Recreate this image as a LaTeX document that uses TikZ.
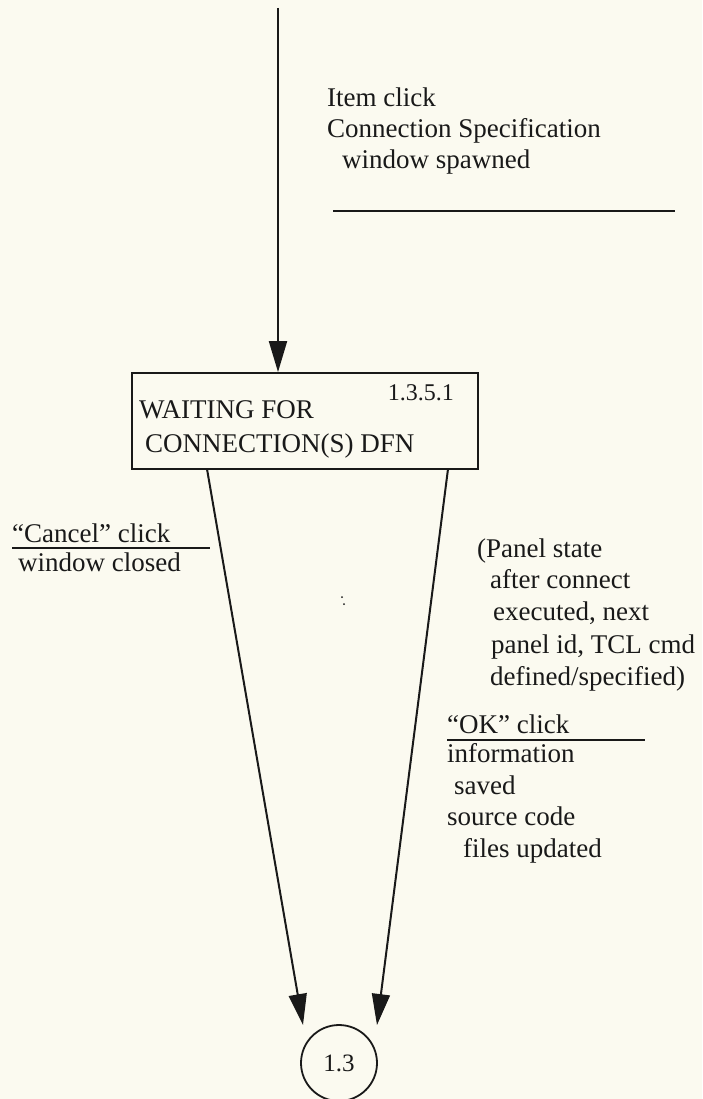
\documentclass[tikz,border=0pt]{standalone}
\usepackage{fontspec}
\setmainfont{Liberation Serif}
\usetikzlibrary{arrows.meta}
\definecolor{paper}{RGB}{251,250,240}
\definecolor{ink}{RGB}{25,25,25}
\begin{document}
\begin{tikzpicture}[x=1pt,y=-1pt,
  lbl/.style={anchor=base west,inner sep=0pt,text=ink,font=\fontsize{27}{31}\selectfont},
  flow/.style={draw=ink,line width=2pt,-{Triangle[length=31pt,width=18pt]}},
  rule/.style={draw=ink,line width=2pt},
  statebox/.style={draw=ink,line width=1.8pt,rectangle,minimum width=346pt,minimum height=96pt,inner sep=0pt},
  term/.style={draw=ink,line width=1.8pt,circle,minimum size=76pt,inner sep=0pt,text=ink,font=\fontsize{25}{28}\selectfont}]
\fill[paper] (0,0) rectangle (702,1099);
\useasboundingbox (0,0) rectangle (702,1099);

% state box
\node[statebox] (box) at (305,421) {};
\node[lbl] (w1) at (139,418) {WAITING FOR};
\node[lbl] (w2) at (145,452) {CONNECTION(S) DFN};
\node[lbl,anchor=base east,font=\fontsize{24}{26}\selectfont] (num) at (454,400) {1.3.5.1};

% terminal circle
\node[term] (c13) at (339,1063) {1.3};

% top incoming flow
\coordinate (top) at (278,8);
\draw[flow] (top) -- (top |- box.north);

% labels for incoming flow
\node[lbl] (t1) at (327,107) {Item click};
\node[lbl] (t2) at (327,138) {Connection Specification};
\node[lbl] (t3) at (342,169) {window spawned};
\coordinate (r1a) at (333,211);
\coordinate (r1b) at (675,211);
\draw[rule] (r1a) -- (r1b);

% left outgoing flow
\coordinate (ls) at (207,469);
\coordinate (le) at (303,1025);
\draw[flow] (ls) -- (le);
\node[lbl] (k1) at (12,542) {“Cancel” click};
\node[lbl] (k2) at (18,571) {window closed};
\coordinate (r2a) at (12,548);
\coordinate (r2b) at (210,548);
\draw[rule] (r2a) -- (r2b);

% right outgoing flow
\coordinate (rs) at (448,469);
\coordinate (re) at (377,1025);
\draw[flow] (rs) -- (re);
\node[lbl] (p1) at (477,557) {(Panel state};
\node[lbl] (p2) at (490,588) {after connect};
\node[lbl] (p3) at (493,620) {executed, next};
\node[lbl] (p4) at (491,653) {panel id, TCL cmd};
\node[lbl] (p5) at (490,685) {defined/specified)};
\node[lbl] (o1) at (447,733) {“OK” click};
\coordinate (r3a) at (447,740);
\coordinate (r3b) at (645,740);
\draw[rule] (r3a) -- (r3b);
\node[lbl] (o2) at (447,762) {information};
\node[lbl] (o3) at (454,794) {saved};
\node[lbl] (o4) at (447,825) {source code};
\node[lbl] (o5) at (463,857) {files updated};

% stray specks
\fill[ink] (342,597) circle (1pt);
\fill[ink] (344,604) circle (1pt);
\end{tikzpicture}
\end{document}
